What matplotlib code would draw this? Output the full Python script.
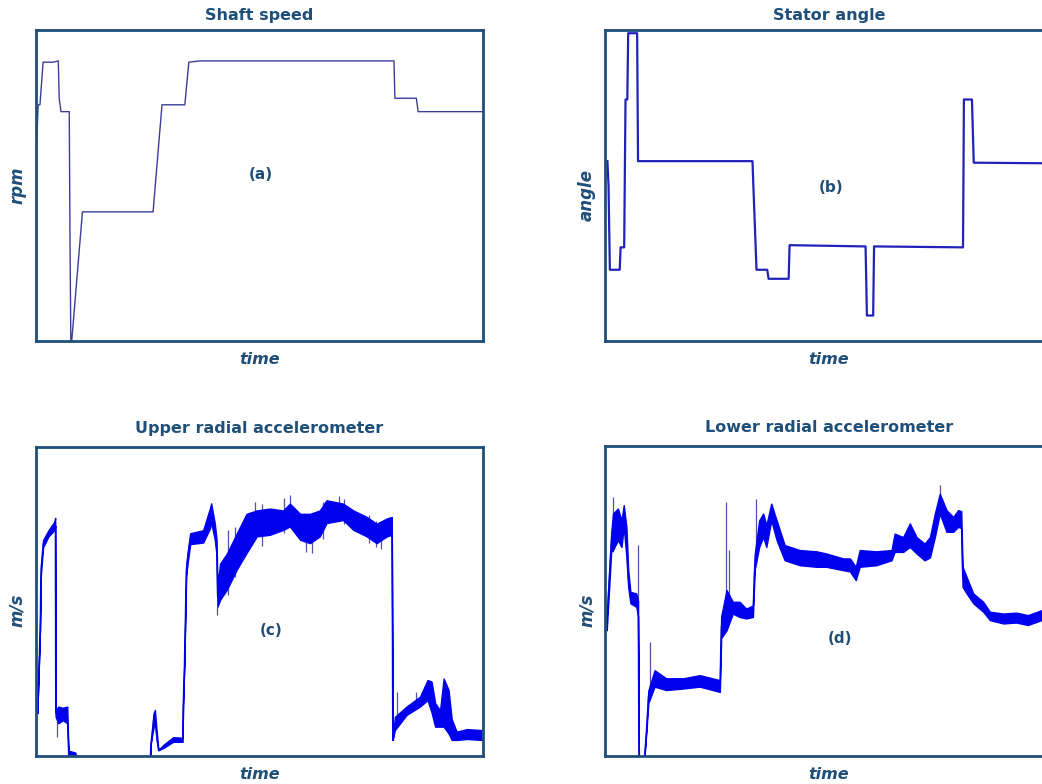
import numpy as np
import matplotlib as mpl
mpl.use('Agg')
import matplotlib.pyplot as plt

# all values, in % of each panel's range (0..100)

# (a) shaft speed
a_t = [0.15, 0.5, 0.9, 1.6, 3.9, 5.0, 5.2, 5.6, 7.45, 7.6, 7.8, 8.0, 10.4, 26.2, 28.2,
       33.3, 34.2, 36.7, 80.1, 80.3, 85.1, 85.5, 100.0]
a_v = [63.5, 75.9, 75.9, 89.6, 89.6, 90.0, 78.0, 73.7, 73.7, 36.2, 0.0, 0.0, 41.5, 41.5, 75.9,
       75.9, 89.6, 90.0, 90.0, 78.0, 78.0, 73.7, 73.7]

# (b) stator angle
b_t = [0.45, 0.7, 1.0, 3.2, 3.4, 4.2, 4.5, 4.9, 5.1, 7.1, 7.3, 32.9, 33.8, 36.2, 36.5, 41.0,
       41.2, 58.2, 58.5, 59.9, 60.1, 80.0, 80.2, 82.0, 82.4, 100.0]
b_v = [57.8, 49.8, 22.9, 22.9, 30.1, 30.1, 77.6, 77.6, 98.9, 98.9, 57.8, 57.8, 22.9, 22.9,
       20.0, 20.0, 30.8, 30.4, 8.2, 8.2, 30.4, 30.1, 77.6, 77.6, 57.3, 57.1]

# (c) upper radial accelerometer: time, lower and upper edge of the noise band
c_t = [0.3, 0.5, 0.9, 1.1, 1.6, 2.8, 4.1, 4.3, 4.4, 5.0, 6.0, 7.0, 7.3, 7.6, 8.8, 9.2,
       25.5, 25.7, 26.3, 26.6, 27.0, 27.4, 28.5, 30.7, 32.8, 32.9, 33.2, 33.6, 33.9, 34.5,
       37.4, 38.9, 39.2, 40.0, 40.4, 40.6, 41.2, 42.7, 44.9, 47.1, 49.4, 52.3, 55.3, 56.8,
       59.1, 61.3, 63.5, 65.0, 68.7, 71.0, 74.0, 76.2, 78.5, 79.6, 79.8, 80.3, 82.9, 85.9,
       87.6, 88.5, 89.3, 90.4, 91.2, 92.3, 93.0, 94.1, 96.4, 99.7]
c_lo = [13.8, 22.3, 40.7, 58.5, 67.5, 71.0, 73.0, 74.5, 12.6, 10.5, 11.5, 10.5, 0.0, 0.5, 0.3, -3,
        -3, 4.1, 9.0, 11.0, 5.0, 1.8, 2.5, 4.5, 4.5, 15.9, 30.4, 58.0, 62.0, 68.5,
        69.0, 73.5, 75.5, 70.0, 65.0, 48.2, 50.5, 53.7, 60.2, 65.6, 71.0, 71.5, 73.1, 74.2,
        69.9, 68.8, 71.0, 75.3, 76.3, 73.1, 71.0, 68.8, 71.0, 71.5, 5.1, 8.3, 13.2, 15.9,
        18.0, 14.0, 9.4, 9.4, 9.4, 7.2, 5.1, 5.1, 5.4, 5.1]
c_hi = [13.8, 22.3, 40.7, 61.2, 69.8, 73.0, 75.7, 77.0, 14.5, 15.9, 15.5, 15.9, 0.0, 1.5, 1.0, -3,
        -3, 4.1, 13.7, 14.8, 8.0, 1.8, 3.5, 6.0, 5.8, 15.9, 30.4, 61.2, 65.5, 72.0,
        73.0, 80.0, 81.7, 75.2, 70.0, 55.0, 62.2, 65.4, 71.9, 78.3, 79.4, 80.0, 79.4, 81.6,
        78.3, 78.3, 79.4, 82.7, 81.6, 79.4, 77.3, 75.1, 76.8, 77.3, 5.1, 12.6, 15.9, 19.1,
        24.5, 24.0, 17.0, 14.7, 25.0, 21.3, 11.9, 7.8, 8.6, 8.3]
c_spk_t = [4.6, 27.4, 40.6, 42.9, 44.6, 49.0, 50.5, 55.6, 56.8, 60.5, 61.8, 64.2, 67.8,
           69.0, 74.5, 76.0, 77.2, 80.7, 85.0]
c_spk_lo = [12.6, 1.8, 48.2, 52.0, 58.0, 70.0, 68.0, 72.0, 74.0, 66.0, 65.5, 70.0, 76.0,
            75.0, 69.0, 67.5, 67.0, 13.0, 15.0]
c_spk_hi = [6.1, 1.8, 45.5, 73.0, 74.0, 82.0, 81.5, 83.5, 84.5, 78.0, 77.0, 82.0, 84.0,
            83.0, 78.0, 76.0, 76.0, 20.7, 20.7]

# (d) lower radial accelerometer
d_t = [0.3, 1.3, 1.7, 2.8, 3.6, 4.1, 4.7, 5.1, 5.6, 6.9, 7.3, 7.5, 8.6, 9.2, 9.6, 11.0,
       13.6, 17.4, 21.1, 25.6, 25.9, 27.1, 28.5, 30.0, 31.5, 33.0, 33.4, 34.4, 35.3, 36.0,
       37.1, 38.3, 40.1, 43.5, 47.2, 49.4, 53.2, 54.7, 56.0, 56.9, 60.6, 64.0, 64.7, 66.6,
       68.1, 69.6, 71.4, 72.6, 73.7, 74.8, 76.3, 77.8, 78.9, 79.6, 79.9, 80.8, 82.3, 84.5,
       86.0, 89.0, 91.9, 94.5, 97.6, 100.0]
d_lo = [40.5, 66.0, 66.4, 69.6, 67.4, 73.9, 64.2, 54.5, 49.2, 48.1, 45.0, -3, -3, 8.3, 17.0, 22.3,
        21.2, 21.7, 22.3, 20.6, 38.0, 40.5, 45.9, 44.8, 44.3, 44.8, 60.0, 67.4, 70.6, 67.4,
        76.0, 69.6, 63.1, 61.5, 61.0, 61.0, 59.9, 59.5, 56.7, 61.0, 61.5, 63.1, 65.8, 65.8,
        67.4, 65.3, 63.1, 64.0, 70.6, 78.2, 72.3, 72.3, 73.9, 73.5, 54.5, 52.4, 49.2, 46.5,
        43.8, 42.7, 43.0, 42.2, 43.8, 43.5]
d_hi = [45.0, 72.0, 78.2, 79.8, 76.0, 80.9, 73.9, 59.9, 52.9, 52.4, 50.0, -3, -3, 10.0, 21.0, 27.6,
        25.0, 25.0, 26.0, 24.4, 45.0, 53.5, 49.7, 49.7, 47.5, 48.5, 65.0, 76.0, 78.2, 74.4,
        81.4, 76.0, 68.0, 66.4, 66.0, 65.3, 63.7, 63.7, 61.0, 66.4, 66.0, 66.4, 71.7, 70.6,
        75.0, 70.6, 68.5, 70.6, 78.2, 84.6, 79.3, 77.1, 79.3, 79.0, 61.0, 57.7, 52.4, 49.7,
        46.5, 45.9, 46.2, 45.4, 47.0, 46.5]
d_spk_t = [1.6, 7.3, 9.9, 26.9, 27.6, 33.8, 74.8]
d_spk_lo = [65.8, 48.0, 20.0, 45.0, 47.0, 62.0, 78.0]
d_spk_hi = [83.5, 68.0, 36.8, 81.9, 66.4, 83.0, 87.3]

titles = ['Shaft speed', 'Stator angle', 'Upper radial accelerometer', 'Lower radial accelerometer']
ylabels = ['rpm', 'angle', 'm/s', 'm/s']
tags = ['(a)', '(b)', '(c)', '(d)']

navy = '#1f4e79'
thin = '#5252a8'
blue = '#0000ee'

fig = plt.figure(figsize=(10.42, 7.84), dpi=100)
fig.patch.set_facecolor('white')

# axes boxes in figure fractions, right column runs past the edge as in the original
boxes = [[0.0345, 0.565, 0.429, 0.397],
         [0.581, 0.565, 0.429, 0.397],
         [0.0345, 0.0361, 0.429, 0.394],
         [0.581, 0.0361, 0.429, 0.395]]
tag_pos = [(50.3, 53.4), (50.4, 49.4), (52.6, 40.4), (52.4, 38.0)]
title_pad = [7, 7, 10, 10]

axes = []
for i, b in enumerate(boxes):
    ax = fig.add_axes(b)
    ax.set_xlim(0, 100)
    ax.set_ylim(0, 100)
    ax.set_xticks([])
    ax.set_yticks([])
    for s in ax.spines.values():
        s.set_color(navy)
        s.set_linewidth(2.0)
        s.set_zorder(5)
    ax.set_title(titles[i], fontsize=11.5, fontweight='bold', color=navy, pad=title_pad[i])
    ax.text(0.5, -0.06, 'time', transform=ax.transAxes, ha='center', va='center',
            fontsize=11.5, fontweight='bold', style='italic', color=navy)
    ax.text(-0.042, 0.47 if i else 0.5, ylabels[i], transform=ax.transAxes, rotation=90,
            ha='center', va='center', fontsize=12, fontweight='bold', style='italic', color=navy)
    ax.text(tag_pos[i][0], tag_pos[i][1], tags[i], ha='center', va='center',
            fontsize=11, fontweight='bold', color=navy)
    axes.append(ax)

axes[0].plot(a_t, a_v, color='#3d3d99', lw=1.0)
axes[1].plot(b_t, b_v, color='#2222bb', lw=1.6)

for ax, t, lo, hi, st, sl, sh in [(axes[2], c_t, c_lo, c_hi, c_spk_t, c_spk_lo, c_spk_hi),
                                  (axes[3], d_t, d_lo, d_hi, d_spk_t, d_spk_lo, d_spk_hi)]:
    lo = np.array(lo)
    hi = np.array(hi)
    ax.plot(t, (lo + hi) / 2, color=thin, lw=0.9, zorder=2)
    ax.vlines(st, sl, sh, color=thin, lw=0.9, zorder=2)
    ax.fill_between(t, lo, hi, color=blue, lw=1.0, edgecolor=blue, zorder=3)

fig.savefig('out.png', dpi=100, facecolor='white')
